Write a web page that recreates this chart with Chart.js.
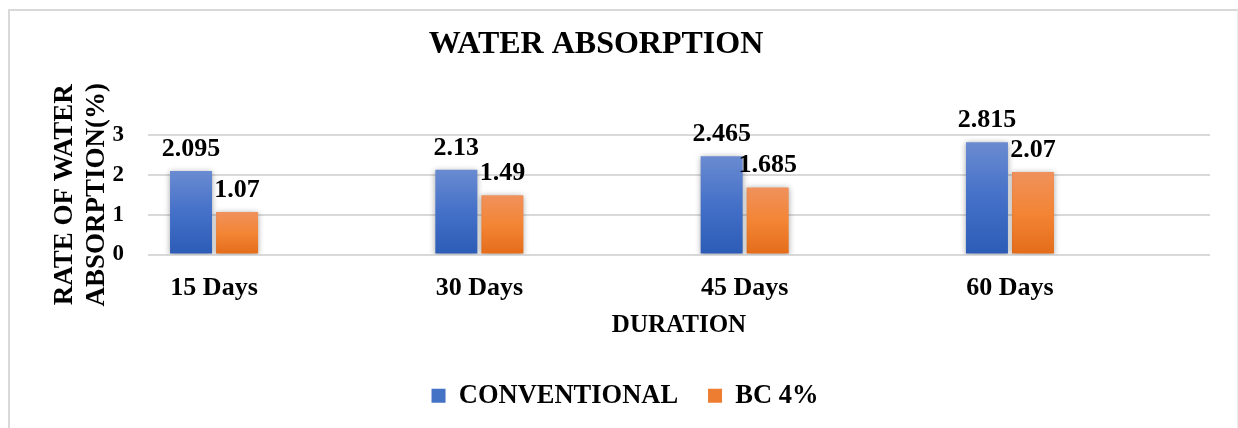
<!DOCTYPE html>
<html>
<head>
<meta charset="utf-8">
<script src="https://cdn.jsdelivr.net/npm/chart.js@4.4.0/dist/chart.umd.min.js"></script>
<style>
  html, body { margin: 0; padding: 0; background: #fff; overflow: hidden; }
  #frame { position: absolute; left: 8px; top: 9px; width: 1227px; height: 600px;
           border-left: 2px solid #d9d9d9; border-top: 2px solid #d9d9d9; border-right: 1px solid #ececec; }
  #chartWater { position: absolute; left: 0; top: 0; }
</style>
</head>
<body>
<div id="frame"></div>
<canvas id="chartWater" width="1238" height="428"></canvas>
<script>
// data
const durations = ["15 Days", "30 Days", "45 Days", "60 Days"];
const conventional = [2.095, 2.13, 2.465, 2.815];
const bc4 = [1.07, 1.49, 1.685, 2.07];
const yTicks = [0, 1, 2, 3];

const serif = "'Liberation Serif', 'Times New Roman', serif";

/*
    Vertical gradient for one bar, light on top and dark at the bottom
*/
function barFill(top, mid, bottom, flat) {
    return function(context) {
        const chart = context.chart;
        if (!chart.chartArea || context.parsed === undefined || context.parsed.y === undefined) return flat;
        const y = chart.scales.y;
        const y0 = y.getPixelForValue(context.parsed.y);
        const y1 = y.getPixelForValue(0);
        const g = chart.ctx.createLinearGradient(0, y0, 0, y1);
        g.addColorStop(0, top);
        g.addColorStop(0.5, mid);
        g.addColorStop(1, bottom);
        return g;
    };
}

// title drawn a bit left of centre, like the original
const titlePlugin = {
    id: "waterTitle",
    afterDraw(chart) {
        const ctx = chart.ctx;
        ctx.save();
        ctx.font = "bold 32px " + serif;
        ctx.fillStyle = "#000";
        ctx.textAlign = "center";
        ctx.textBaseline = "alphabetic";
        ctx.fillText("WATER ABSORPTION", 596, 53);
        ctx.restore();
    }
};

// soft shadow round the bars
const shadowPlugin = {
    id: "barShadow",
    beforeDatasetsDraw(chart) {
        const ctx = chart.ctx;
        ctx.save();
        ctx.shadowColor = "rgba(0,0,0,0.35)";
        ctx.shadowBlur = 6;
        ctx.shadowOffsetX = 0;
        ctx.shadowOffsetY = 1;
    },
    afterDatasetsDraw(chart) {
        chart.ctx.restore();
    }
};

// value labels above each bar
const valueLabels = {
    id: "valueLabels",
    afterDatasetsDraw(chart) {
        const ctx = chart.ctx;
        ctx.save();
        ctx.font = "bold 26px " + serif;
        ctx.fillStyle = "#000";
        ctx.textAlign = "center";
        ctx.textBaseline = "alphabetic";
        chart.data.datasets.forEach((ds, i) => {
            chart.getDatasetMeta(i).data.forEach((bar, j) => {
                ctx.fillText(String(ds.data[j].y), bar.x, bar.y - 15);
            });
        });
        ctx.restore();
    }
};

const ctx = document.getElementById("chartWater");

new Chart(ctx, {
    type: "bar",
    data: {
        datasets: [
            {
                label: "CONVENTIONAL",
                data: conventional.map((v, i) => ({x: i, y: v})),
                backgroundColor: barFill("#6a8bd1", "#4470c8", "#2c5cb6", "#4472c4"),
                categoryPercentage: 0.347,
                barPercentage: 0.913
            },
            {
                label: "BC 4%",
                data: bc4.map((v, i) => ({x: i, y: v})),
                backgroundColor: barFill("#f0915c", "#f38535", "#e46c1a", "#ed7d31"),
                categoryPercentage: 0.347,
                barPercentage: 0.913
            }
        ]
    },
    options: {
        responsive: false,
        animation: false,
        layout: { padding: { left: 40, right: 28, top: 135, bottom: 9 } },
        plugins: {
            title: { display: false },
            tooltip: { enabled: false },
            legend: {
                position: "bottom",
                labels: {
                    color: "#000",
                    font: { family: serif, size: 26.5, weight: "bold" },
                    boxWidth: 14,
                    boxHeight: 14,
                    padding: 10,
                    generateLabels(chart) {
                        const items = Chart.defaults.plugins.legend.labels.generateLabels(chart);
                        const flat = ["#4472c4", "#ed7d31"];
                        items.forEach((it, i) => {
                            it.fillStyle = flat[i];
                            it.strokeStyle = flat[i];
                            it.lineWidth = 0;
                            if (i === 0) it.text = it.text + "   ";
                        });
                        return items;
                    }
                }
            }
        },
        scales: {
            x: {
                type: "linear",
                offset: false,
                min: -0.249,
                max: 3.754,
                grid: { display: false, drawTicks: false, offset: false },
                border: { display: false },
                afterBuildTicks(scale) {
                    scale.ticks = durations.map((d, i) => ({ value: i }));
                },
                afterFit(scale) { scale.height = 118; },
                ticks: {
                    color: "#000",
                    font: { family: serif, size: 26, weight: "bold" },
                    padding: 18,
                    maxRotation: 0,
                    autoSkip: false,
                    callback: (v) => durations[v]
                },
                title: {
                    display: true,
                    text: "DURATION",
                    color: "#000",
                    font: { family: serif, size: 25, weight: "bold", lineHeight: 1.2 },
                    padding: { top: 0, bottom: 32 }
                }
            },
            y: {
                min: 0,
                max: 3,
                afterBuildTicks(scale) {
                    scale.ticks = yTicks.map(v => ({ value: v }));
                },
                afterFit(scale) { scale.width = 108; },
                grid: { color: "#d9d9d9", lineWidth: 2, drawTicks: false },
                border: { display: false },
                ticks: {
                    color: "#000",
                    font: { family: serif, size: 23, weight: "bold" },
                    padding: 24
                },
                title: {
                    display: true,
                    text: ["RATE OF WATER", "ABSORPTION(%)"],
                    color: "#000",
                    font: { family: serif, size: 27, weight: "bold", lineHeight: 1.15 },
                    padding: { top: 10, bottom: 0 }
                }
            }
        }
    },
    plugins: [titlePlugin, shadowPlugin, valueLabels]
});
</script>
</body>
</html>
